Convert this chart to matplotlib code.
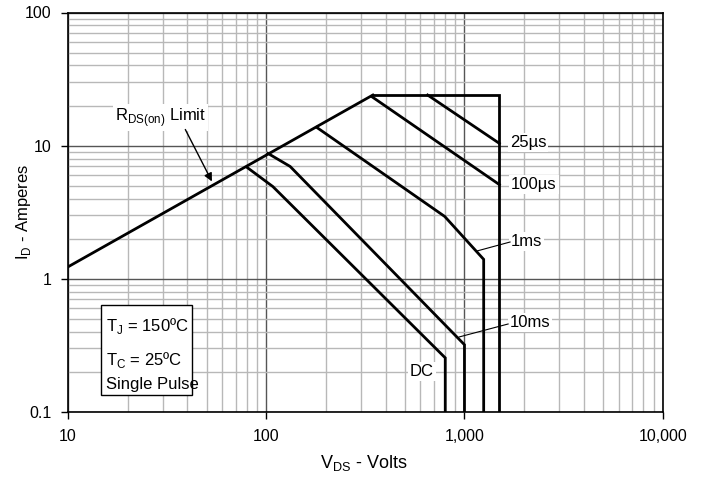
import matplotlib
matplotlib.use("Agg")
import matplotlib.pyplot as plt
from matplotlib.ticker import FixedLocator, LogLocator, NullFormatter
from matplotlib.patches import Rectangle

plt.rcParams['font.family'] = ['Liberation Sans', 'DejaVu Sans']

# Data (V_DS in volts, I_D in amperes)
rds_v = [10, 345]
rds_i = [1.23, 24]
top_v = [345, 1500, 1500]
top_i = [24, 24, 0.1]
us25_v = [652, 1500]
us25_i = [24, 10.4]
us100_v = [340, 1500]
us100_i = [23.4, 5.1]
ms1_v = [180, 795, 1250, 1250]
ms1_i = [13.7, 2.94, 1.4, 0.1]
ms10_v = [102, 132, 1000, 1000]
ms10_i = [8.75, 6.98, 0.32, 0.1]
dc_v = [80, 108, 800, 800]
dc_i = [6.87, 4.93, 0.255, 0.1]

xticks = [10, 100, 1000, 10000]
xticklabels = ["10", "100", "1,000", "10,000"]
yticks = [0.1, 1, 10, 100]
yticklabels = ["0.1", "1", "10", "100"]

fig = plt.figure(figsize=(7.06, 4.8), dpi=100)
ax = fig.add_axes([68/706, 1 - 412/480, (662.7-68)/706, (412-12.5)/480])
ax.set_xscale('log')
ax.set_yscale('log')
ax.set_xlim(10, 10000)
ax.set_ylim(0.1, 100)

ax.xaxis.set_major_locator(FixedLocator(xticks))
ax.set_xticklabels(xticklabels)
ax.yaxis.set_major_locator(FixedLocator(yticks))
ax.set_yticklabels(yticklabels)
ax.xaxis.set_minor_locator(LogLocator(base=10, subs=range(2, 10)))
ax.yaxis.set_minor_locator(LogLocator(base=10, subs=range(2, 10)))
ax.xaxis.set_minor_formatter(NullFormatter())
ax.yaxis.set_minor_formatter(NullFormatter())

ax.grid(which='minor', color='#b8b8b8', linewidth=1.0)
ax.grid(which='major', color='#555555', linewidth=1.0)
ax.set_axisbelow(True)
ax.tick_params(which='minor', length=0)
ax.tick_params(which='major', direction='out', length=5, width=1, labelsize=11.5, pad=7)
for s in ax.spines.values():
    s.set_linewidth(1.2)
    s.set_color('black')

lw = 2.0
for vx, iy in [(rds_v, rds_i), (top_v, top_i), (us25_v, us25_i), (us100_v, us100_i),
               (ms1_v, ms1_i), (ms10_v, ms10_i), (dc_v, dc_i)]:
    ax.plot(vx, iy, color='black', linewidth=lw, solid_joinstyle='miter', zorder=3)

ax.set_xlabel("V$_{\\mathregular{DS}}$ - Volts", fontsize=13)
ax.set_ylabel("I$_{\\mathregular{D}}$ - Amperes", fontsize=12)
ax.xaxis.set_label_coords((364 - 68) / (662.7 - 68), -(453 - 412) / 399.5)
ax.yaxis.set_label_coords(-(68 - 33) / 594.7, (412 - 212) / 399.5)

bb = dict(facecolor='white', edgecolor='none', pad=1.5)
fs = 12
ax.text(29.4, 16.4, "R$_{\\mathregular{DS(on)}}$ Limit", fontsize=fs, ha='center', va='center', bbox=bb, zorder=4)
ax.annotate("", xy=(54, 5.16), xytext=(38.5, 13.8),
            arrowprops=dict(arrowstyle='-|>', color='black', lw=1.0, mutation_scale=12), zorder=4)

ax.text(1690, 10.5, "25µs", fontsize=fs, ha='left', va='center', bbox=bb, zorder=4)
ax.text(1720, 5.07, "100µs", fontsize=fs, ha='left', va='center', bbox=bb, zorder=4)
ax.text(1710, 1.9, "1ms", fontsize=fs, ha='left', va='center', bbox=bb, zorder=4)
ax.plot([1159, 1698], [1.62, 1.89], color='black', lw=0.8, zorder=4)
ax.text(1690, 0.47, "10ms", fontsize=fs, ha='left', va='center', bbox=bb, zorder=4)
ax.plot([940, 1660], [0.366, 0.458], color='black', lw=0.8, zorder=4)
ax.text(611, 0.2, "DC", fontsize=fs, ha='center', va='center', bbox=bb, zorder=4)

# conditions box
ax.text(15.6, 0.443, "T$_{\\mathregular{J}}$ = 150ºC", fontsize=fs, ha='left', va='center', zorder=5)
ax.text(15.6, 0.246, "T$_{\\mathregular{C}}$ = 25ºC", fontsize=fs, ha='left', va='center', zorder=5)
ax.text(15.6, 0.16, "Single Pulse", fontsize=fs, ha='left', va='center', zorder=5)
rect = Rectangle((101/706, 1 - 395/480), 91/706, 90/480, transform=fig.transFigure,
                 facecolor='white', edgecolor='black', lw=1.0, zorder=4)
ax.add_patch(rect)
rect.set_transform(fig.transFigure)

fig.savefig("out.png", dpi=100)
